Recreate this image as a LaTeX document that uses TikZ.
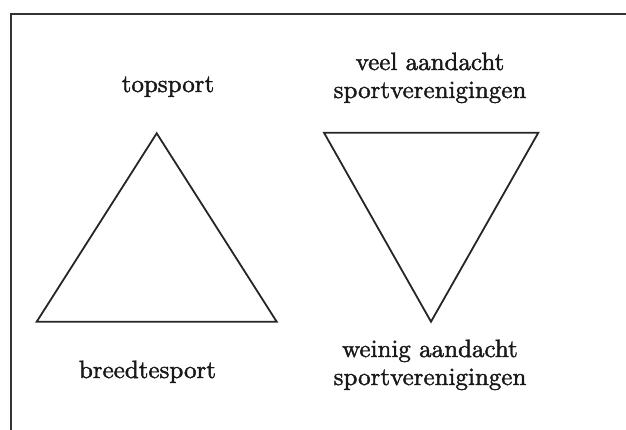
\documentclass[tikz,border=0pt]{standalone}
\usepackage{fontspec}
\newfontfamily\lblfont{lmroman10-regular.otf}[FakeBold=1.6]
\begin{document}
\begin{tikzpicture}[x=1pt,y=-1pt,
  lbl/.style={anchor=base, inner sep=0pt, align=center, text=black!90,
    font=\lblfont\fontsize{25}{28}\selectfont},
  trishape/.style={draw=black!85, line width=1.8pt, line join=miter},
  framebox/.style={draw=black!80, line width=1.7pt}]
\useasboundingbox (0,0) rectangle (626,429);
\clip (0,0) rectangle (626,429);
\fill[white] (0,0) rectangle (626,429);
\draw[framebox] (11,440) -- (11,14) -- (640,14);
% left triangle
\coordinate (ta) at (156.7,133.3);
\coordinate (tl) at (36.7,321.7);
\coordinate (tr) at (276.7,321.7);
\draw[trishape] (ta) -- (tl) -- (tr) -- cycle;
% right triangle
\coordinate (ia) at (324,132.7);
\coordinate (ib) at (538.3,132.7);
\coordinate (ic) at (431,321.7);
\draw[trishape] (ia) -- (ib) -- (ic) -- cycle;
% labels
\node[lbl] (top) at (168,92) {topsport};
\node[lbl] (breed) at (147.5,378) {breedtesport};
\node[lbl] (veel) at (430,98) {veel aandacht\\sportverenigingen};
\node[lbl] (weinig) at (430,385) {weinig aandacht\\sportverenigingen};
\end{tikzpicture}
\end{document}
